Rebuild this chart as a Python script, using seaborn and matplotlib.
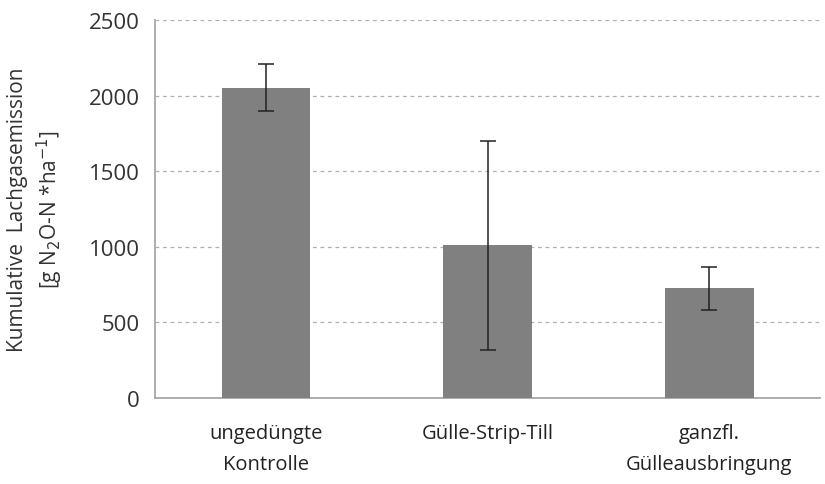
import seaborn as sns
import matplotlib.pyplot as plt
import pandas as pd

categories = ["ungedüngte\nKontrolle", "Gülle-Strip-Till", "ganzfl.\nGülleausbringung"]
emission = [2050, 1010, 725]
err = [155, 690, 140]
yticks = [0, 500, 1000, 1500, 2000, 2500]


def main():
    sns.set_style("white")
    plt.rcParams['font.family'] = ['Open Sans', 'DejaVu Sans']

    df = pd.DataFrame({"cat": categories, "val": emission})

    fig = plt.figure(figsize=(8.25, 4.85), dpi=100)
    ax = fig.add_axes([0.188, 0.177, 0.806, 0.780])

    sns.barplot(data=df, x="cat", y="val", color="#808080", width=0.4,
                saturation=1, edgecolor="none", ax=ax, zorder=3)
    ax.errorbar(range(len(categories)), emission, yerr=err, fmt="none",
                ecolor="#222222", elinewidth=1.1, capsize=6, capthick=1.1, zorder=4)

    ax.set_xlim(-0.5, len(categories) - 0.5)
    ax.set_ylim(0, 2500)
    ax.set_yticks(yticks)
    ax.yaxis.grid(True, linestyle=(0, (3, 3)), color="#b0b0b0", linewidth=0.9, zorder=0)
    ax.set_xlabel("")
    ax.set_ylabel("Kumulative  Lachgasemission\n[g N$_2$O-N *ha$^{-1}$]", fontsize=15,
                  color="#333333", linespacing=1.3)
    ax.yaxis.set_label_coords(-0.135, 0.5)

    for side in ["top", "right"]:
        ax.spines[side].set_visible(False)
    for side in ["left", "bottom"]:
        ax.spines[side].set_color("#a0a0a0")
        ax.spines[side].set_linewidth(1.2)

    ax.tick_params(axis="y", length=5, color="#a0a0a0", labelsize=16, labelcolor="#333333", pad=6)
    ax.tick_params(axis="x", length=0, labelsize=14.5, labelcolor="#222222", pad=18)
    for lbl in ax.get_xticklabels():
        lbl.set_linespacing(1.75)
    ax.set_xticks([-0.5, 0.5, 1.5, 2.5], minor=True)
    ax.tick_params(axis="x", which="minor", length=8, color="#a0a0a0", width=1)

    plt.savefig("out.png", dpi=100)


if __name__ == "__main__":
    main()
